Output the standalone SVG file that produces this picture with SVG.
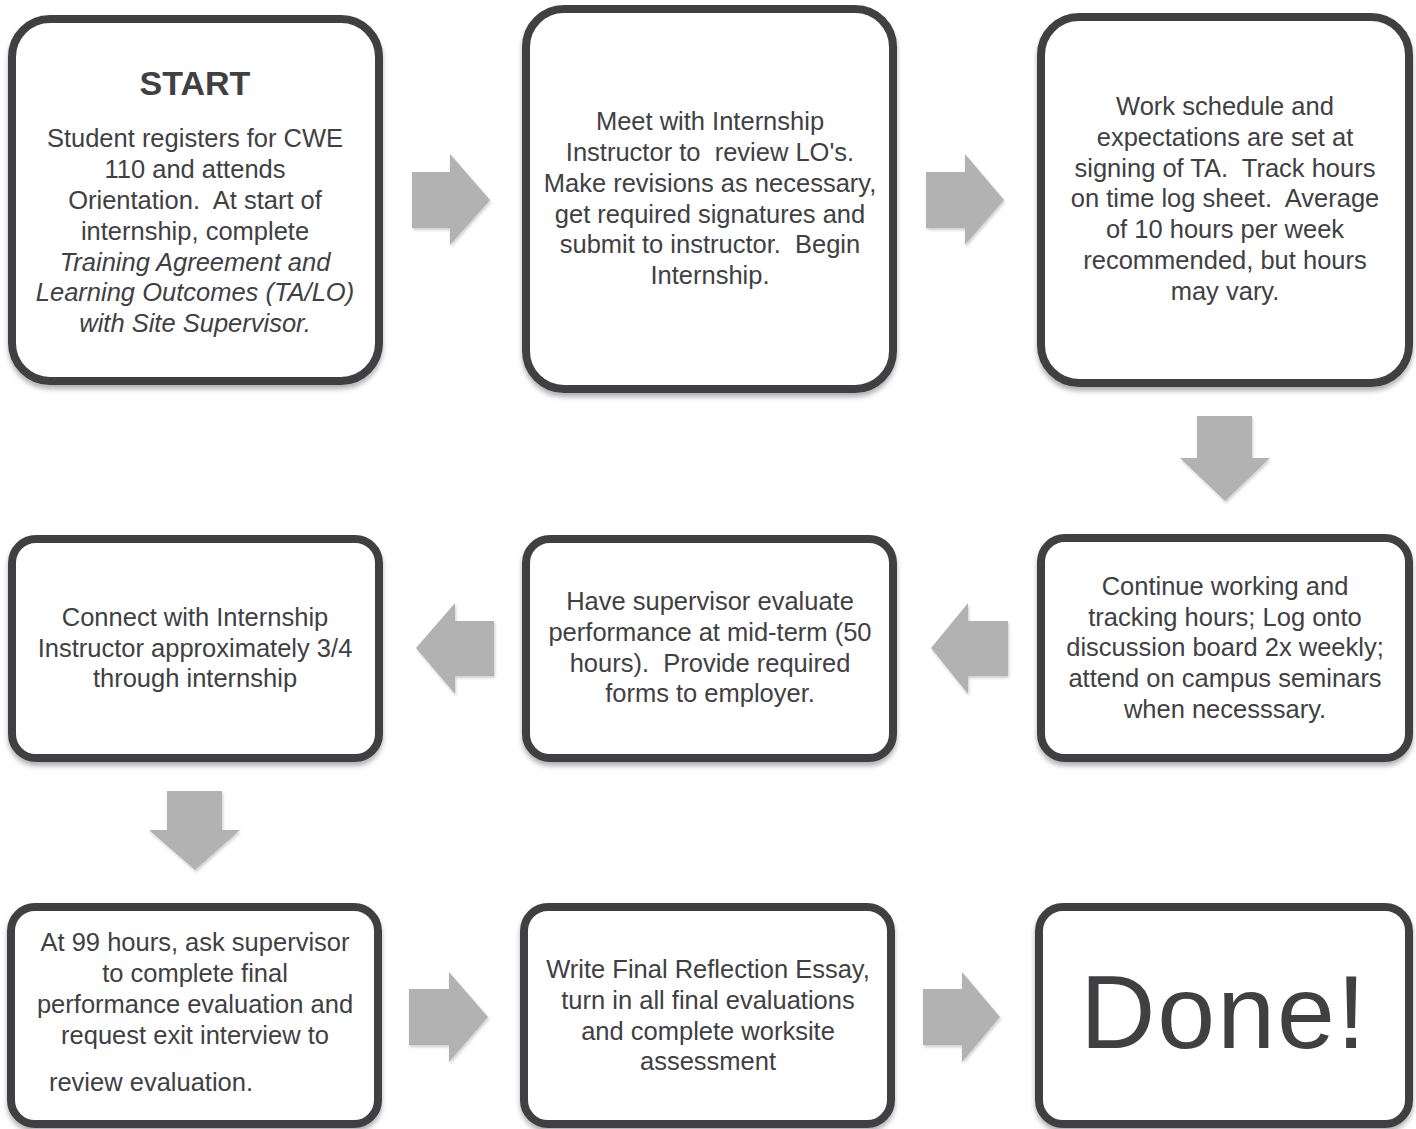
<svg xmlns="http://www.w3.org/2000/svg" width="1416" height="1129" viewBox="0 0 1416 1129">
<defs>
<filter id="sh" x="-10%" y="-10%" width="120%" height="125%">
<feDropShadow dx="0" dy="4" stdDeviation="2.5" flood-color="#000" flood-opacity="0.3"/>
</filter>
<filter id="ash" x="-10%" y="-10%" width="125%" height="125%">
<feDropShadow dx="1" dy="2" stdDeviation="1.5" flood-color="#000" flood-opacity="0.2"/>
</filter>
</defs>
<style>
.box{fill:#fff;stroke:#404043;stroke-width:8;filter:url(#sh)}
.t{font-family:"Liberation Sans",Arial,sans-serif;font-size:25.5px;fill:#404043;text-anchor:middle;white-space:pre}
.it{font-style:italic}
.title{font-family:"Liberation Sans",Arial,sans-serif;font-size:34px;font-weight:bold;fill:#404043;text-anchor:middle}
.done{font-family:"Liberation Sans",Arial,sans-serif;font-size:104px;fill:#404043;text-anchor:middle;letter-spacing:2px}
.arr{fill:#b2b2b2;filter:url(#ash)}
</style>
<rect width="1416" height="1129" fill="#fff"/>
<g id="connectors">
<polygon class="arr" points="412,172 450,172 450,154 490,200 450,245 450,228 412,228"/>
<polygon class="arr" points="926,172 965,172 965,154 1004,200 965,245 965,228 926,228"/>
<polygon class="arr" points="1197,416 1252,416 1252,458 1270,458 1225,501 1180,458 1197,458"/>
<polygon class="arr" points="1008,621 968,621 968,603 931,648 968,694 968,676 1008,676"/>
<polygon class="arr" points="494,621 455,621 455,603 416,648 455,694 455,676 494,676"/>
<polygon class="arr" points="167,791 222,791 222,830 240,830 195,870 149,830 167,830"/>
<polygon class="arr" points="409,989 449,989 449,972 488,1017 449,1062 449,1045 409,1045"/>
<polygon class="arr" points="923,989 962,989 962,972 1000,1017 962,1062 962,1045 923,1045"/>
</g>
<g id="n1">
<rect class="box" x="12" y="19" width="367" height="362" rx="38"/>
<text class="title" x="195" y="95">START</text>
<text class="t" x="195" y="147">Student registers for CWE</text>
<text class="t" x="195" y="178">110 and attends</text>
<text class="t" x="195" y="209">Orientation.  At start of</text>
<text class="t" x="195" y="240">internship, complete</text>
<text class="t it" x="195" y="271">Training Agreement and</text>
<text class="t it" x="195" y="301">Learning Outcomes (TA/LO)</text>
<text class="t it" x="195" y="332">with Site Supervisor.</text>
</g>
<g id="n2">
<rect class="box" x="526" y="9" width="367" height="380" rx="38"/>
<text class="t" x="710" y="130">Meet with Internship</text>
<text class="t" x="710" y="161">Instructor to  review LO's.</text>
<text class="t" x="710" y="192">Make revisions as necessary,</text>
<text class="t" x="710" y="223">get required signatures and</text>
<text class="t" x="710" y="253">submit to instructor.  Begin</text>
<text class="t" x="710" y="284">Internship.</text>
</g>
<g id="n3">
<rect class="box" x="1041" y="17" width="368" height="366" rx="38"/>
<text class="t" x="1225" y="115">Work schedule and</text>
<text class="t" x="1225" y="146">expectations are set at</text>
<text class="t" x="1225" y="177">signing of TA.  Track hours</text>
<text class="t" x="1225" y="207">on time log sheet.  Average</text>
<text class="t" x="1225" y="238">of 10 hours per week</text>
<text class="t" x="1225" y="269">recommended, but hours</text>
<text class="t" x="1225" y="300">may vary.</text>
</g>
<g id="n4">
<rect class="box" x="12" y="539" width="367" height="219" rx="24"/>
<text class="t" x="195" y="626">Connect with Internship</text>
<text class="t" x="195" y="657">Instructor approximately 3/4</text>
<text class="t" x="195" y="687">through internship</text>
</g>
<g id="n5">
<rect class="box" x="526" y="539" width="367" height="219" rx="24"/>
<text class="t" x="710" y="610">Have supervisor evaluate</text>
<text class="t" x="710" y="641">performance at mid-term (50</text>
<text class="t" x="710" y="672">hours).  Provide required</text>
<text class="t" x="710" y="702">forms to employer.</text>
</g>
<g id="n6">
<rect class="box" x="1041" y="538" width="368" height="220" rx="24"/>
<text class="t" x="1225" y="595">Continue working and</text>
<text class="t" x="1225" y="626">tracking hours; Log onto</text>
<text class="t" x="1225" y="656">discussion board 2x weekly;</text>
<text class="t" x="1225" y="687">attend on campus seminars</text>
<text class="t" x="1225" y="718">when necesssary.</text>
</g>
<g id="n7">
<rect class="box" x="11" y="907" width="367" height="217" rx="24"/>
<text class="t" x="195" y="951">At 99 hours, ask supervisor</text>
<text class="t" x="195" y="982">to complete final</text>
<text class="t" x="195" y="1013">performance evaluation and</text>
<text class="t" x="195" y="1044">request exit interview to</text>
<text class="t" x="151" y="1091">review evaluation.</text>
</g>
<g id="n8">
<rect class="box" x="524" y="907" width="367" height="217" rx="24"/>
<text class="t" x="708" y="978">Write Final Reflection Essay,</text>
<text class="t" x="708" y="1009">turn in all final evaluations</text>
<text class="t" x="708" y="1040">and complete worksite</text>
<text class="t" x="708" y="1070">assessment</text>
</g>
<g id="n9">
<rect class="box" x="1039" y="907" width="370" height="217" rx="24"/>
<text class="done" x="1224" y="1048">Done!</text>
</g>
</svg>
